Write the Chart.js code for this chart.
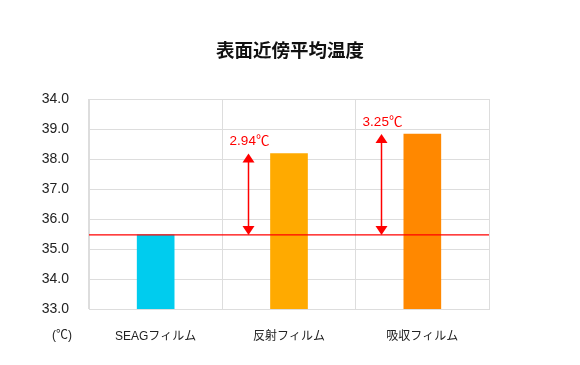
<!DOCTYPE html>
<html>
<head>
<meta charset="utf-8">
<script src="https://cdn.jsdelivr.net/npm/chart.js@4/dist/chart.umd.min.js"></script>
<style>
  html, body { margin: 0; padding: 0; background: #fff; }
</style>
</head>
<body>
<canvas id="tempChart" width="580" height="365"></canvas>
<script>
// data
const categories = ["SEAGフィルム", "反射フィルム", "吸収フィルム"];
const temps = [35.47, 38.18, 38.83];
const baseline = 35.47;
const diffLabels = ["", "2.94℃", "3.25℃"];
const yTicks = [33, 34, 35, 36, 37, 38, 39, 40];
const yTickLabels = ["33.0", "34.0", "35.0", "36.0", "37.0", "38.0", "39.0", "34.0"];
const barColors = ["#00ccee", "#ffaa00", "#ff8800"];

const jpFont = '"Liberation Sans", "Noto Sans CJK JP", sans-serif';

// red reference line + difference arrows
const annotations = {
  id: "annotations",
  afterDatasetsDraw(chart) {
    const ctx = chart.ctx;
    const x = chart.scales.x;
    const y = chart.scales.y;
    const area = chart.chartArea;
    const yBase = y.getPixelForValue(baseline);

    ctx.save();
    ctx.strokeStyle = "#ff0000";
    ctx.fillStyle = "#ff0000";
    ctx.lineWidth = 1.3;
    ctx.beginPath();
    ctx.moveTo(area.left, yBase);
    ctx.lineTo(area.right, yBase);
    ctx.stroke();

    diffLabels.forEach((label, i) => {
      if (!label) return;
      const ax = Math.round(x.getPixelForValue(i) - 41) + 0.5;
      const yTop = y.getPixelForValue(temps[i]);
      ctx.lineWidth = 1.5;
      ctx.beginPath();
      ctx.moveTo(ax, yTop + 8);
      ctx.lineTo(ax, yBase - 8);
      ctx.stroke();
      // arrow heads
      ctx.beginPath();
      ctx.moveTo(ax, yTop);
      ctx.lineTo(ax - 6, yTop + 9);
      ctx.lineTo(ax + 6, yTop + 9);
      ctx.closePath();
      ctx.fill();
      ctx.beginPath();
      ctx.moveTo(ax, yBase);
      ctx.lineTo(ax - 6, yBase - 9);
      ctx.lineTo(ax + 6, yBase - 9);
      ctx.closePath();
      ctx.fill();
      ctx.font = "13.5px " + jpFont;
      ctx.textAlign = "center";
      ctx.textBaseline = "middle";
      ctx.fillText(label, ax + 1, yTop - 12);
    });

    // unit label under the y axis
    ctx.fillStyle = "#222";
    ctx.font = "12px " + jpFont;
    ctx.textAlign = "center";
    ctx.fillText("(℃)", 62, 336);
    ctx.restore();
  }
};

new Chart(document.getElementById("tempChart"), {
  type: "bar",
  data: {
    labels: categories,
    datasets: [{
      data: temps,
      backgroundColor: barColors,
      barThickness: 37
    }]
  },
  options: {
    responsive: false,
    animation: false,
    devicePixelRatio: 1,
    plugins: {
      legend: { display: false },
      tooltip: { enabled: false },
      title: {
        display: true,
        text: "表面近傍平均温度",
        color: "#111",
        font: { family: '"Noto Sans CJK JP", sans-serif', size: 18.5, weight: "bold" },
        padding: { top: 39, bottom: 37.8 }
      }
    },
    scales: {
      x: {
        grid: { color: "#dddddd", drawTicks: false },
        border: { color: "#dddddd" },
        ticks: {
          color: "#222",
          padding: 20,
          font: { family: jpFont, size: 12 }
        },
        afterFit: s => { s.height = 56; }
      },
      y: {
        min: 33,
        max: 40,
        afterBuildTicks: s => { s.ticks = yTicks.map(v => ({ value: v })); },
        grid: { color: "#dddddd", drawTicks: false },
        border: { color: "#dddddd" },
        ticks: {
          color: "#222",
          padding: 20,
          font: { family: '"Liberation Sans", sans-serif', size: 14 },
          callback: (v, i) => yTickLabels[i]
        },
        afterFit: s => { s.width = 89; }
      },
      yRight: {
        position: "right",
        min: 33,
        max: 40,
        grid: { display: false, drawTicks: false },
        border: { display: false },
        ticks: { display: false },
        afterFit: s => { s.width = 91; }
      }
    }
  },
  plugins: [annotations]
});
</script>
</body>
</html>
